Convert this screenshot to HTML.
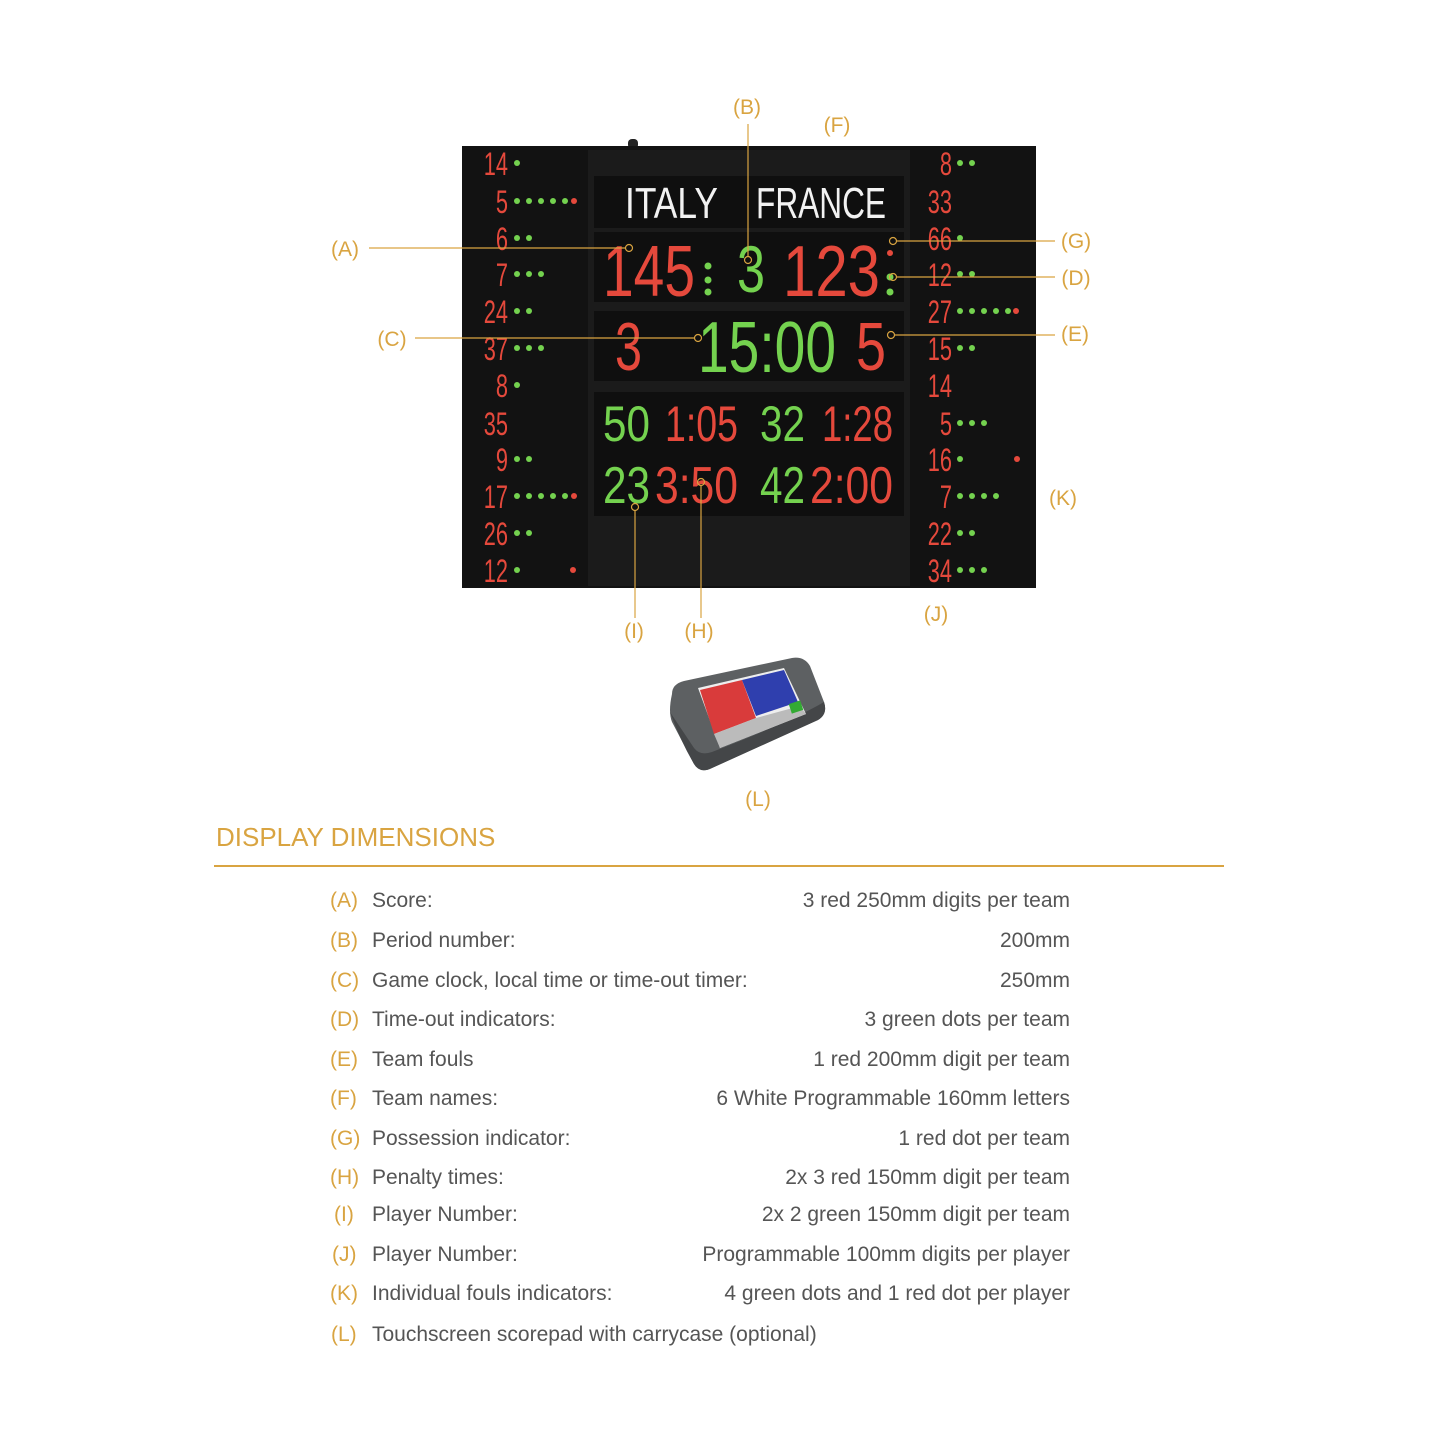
<!DOCTYPE html>
<html><head><meta charset="utf-8"><style>
html,body{margin:0;padding:0;background:#fff;width:1445px;height:1445px;overflow:hidden}
svg{display:block}
.o{fill:#d9a441;font-family:"Liberation Sans",sans-serif;font-size:21px}
.t{fill:#555;font-family:"Liberation Sans",sans-serif;font-size:21px}
.r{fill:#e5493c}.g{fill:#74d24f}
.d{font-family:"Liberation Sans Narrow","Liberation Sans",sans-serif}
</style></head><body>
<svg width="1445" height="1445" viewBox="0 0 1445 1445" xmlns="http://www.w3.org/2000/svg">
<!-- board -->
<rect x="628" y="139" width="10" height="10" rx="4" fill="#222"/>
<rect x="462" y="146" width="574" height="442" fill="#121212"/>
<rect x="588" y="150" width="322" height="436" fill="#1b1b1b"/>
<rect x="594" y="176" width="310" height="52" fill="#0f0f0f"/>
<rect x="594" y="232" width="310" height="70" fill="#0f0f0f"/>
<rect x="594" y="311" width="310" height="70" fill="#0f0f0f"/>
<rect x="594" y="392" width="310" height="124" fill="#0f0f0f"/>
<g class="d">
<text x="625" y="218" fill="#f2f2f2" font-size="44" textLength="93" lengthAdjust="spacingAndGlyphs">ITALY</text>
<text x="756" y="218" fill="#f2f2f2" font-size="44" textLength="130" lengthAdjust="spacingAndGlyphs">FRANCE</text>
<text class="r" x="603" y="296" font-size="72" textLength="92" lengthAdjust="spacingAndGlyphs">145</text>
<text class="g" x="737" y="292" font-size="66" textLength="28" lengthAdjust="spacingAndGlyphs">3</text>
<text class="r" x="783" y="296" font-size="72" textLength="97" lengthAdjust="spacingAndGlyphs">123</text>
<text class="r" x="615" y="370" font-size="68" textLength="27" lengthAdjust="spacingAndGlyphs">3</text>
<text class="g" x="698" y="372" font-size="72" textLength="138" lengthAdjust="spacingAndGlyphs">15:00</text>
<text class="r" x="856" y="370" font-size="68" textLength="30" lengthAdjust="spacingAndGlyphs">5</text>
<text class="g" x="603" y="441" font-size="50" textLength="47" lengthAdjust="spacingAndGlyphs">50</text>
<text class="r" x="665" y="441" font-size="50" textLength="73" lengthAdjust="spacingAndGlyphs">1:05</text>
<text class="g" x="760" y="441" font-size="50" textLength="45" lengthAdjust="spacingAndGlyphs">32</text>
<text class="r" x="822" y="441" font-size="50" textLength="71" lengthAdjust="spacingAndGlyphs">1:28</text>
<text class="g" x="603" y="503" font-size="52" textLength="47" lengthAdjust="spacingAndGlyphs">23</text>
<text class="r" x="655" y="503" font-size="52" textLength="83" lengthAdjust="spacingAndGlyphs">3:50</text>
<text class="g" x="760" y="503" font-size="52" textLength="45" lengthAdjust="spacingAndGlyphs">42</text>
<text class="r" x="810" y="503" font-size="52" textLength="83" lengthAdjust="spacingAndGlyphs">2:00</text>
</g>
<g class="g"><circle cx="708" cy="266" r="3.5"/><circle cx="708" cy="280" r="3.5"/><circle cx="708" cy="292" r="3.5"/><circle cx="890" cy="277" r="3.5"/><circle cx="890" cy="292" r="3.5"/></g>
<circle class="r" cx="890" cy="253" r="3"/>
<!-- side columns -->
<g class="d r" font-size="32" text-anchor="end" transform="translate(508,0) scale(0.68,1)">
<text x="0" y="175">14</text><text x="0" y="213">5</text><text x="0" y="250">6</text><text x="0" y="286">7</text>
<text x="0" y="323">24</text><text x="0" y="360">37</text><text x="0" y="397">8</text><text x="0" y="435">35</text>
<text x="0" y="471">9</text><text x="0" y="508">17</text><text x="0" y="545">26</text><text x="0" y="582">12</text>
</g>
<g class="d r" font-size="32" text-anchor="end" transform="translate(952,0) scale(0.68,1)">
<text x="0" y="175">8</text><text x="0" y="213">33</text><text x="0" y="250">66</text><text x="0" y="286">12</text>
<text x="0" y="323">27</text><text x="0" y="360">15</text><text x="0" y="397">14</text><text x="0" y="435">5</text>
<text x="0" y="471">16</text><text x="0" y="508">7</text><text x="0" y="545">22</text><text x="0" y="582">34</text>
</g>
<g class="g">
<circle cx="517" cy="163" r="3"/>
<circle cx="517" cy="201" r="3"/><circle cx="529" cy="201" r="3"/><circle cx="541" cy="201" r="3"/><circle cx="553" cy="201" r="3"/><circle cx="565" cy="201" r="3"/>
<circle cx="517" cy="238" r="3"/><circle cx="529" cy="238" r="3"/>
<circle cx="517" cy="274" r="3"/><circle cx="529" cy="274" r="3"/><circle cx="541" cy="274" r="3"/>
<circle cx="517" cy="311" r="3"/><circle cx="529" cy="311" r="3"/>
<circle cx="517" cy="348" r="3"/><circle cx="529" cy="348" r="3"/><circle cx="541" cy="348" r="3"/>
<circle cx="517" cy="385" r="3"/>
<circle cx="517" cy="459" r="3"/><circle cx="529" cy="459" r="3"/>
<circle cx="517" cy="496" r="3"/><circle cx="529" cy="496" r="3"/><circle cx="541" cy="496" r="3"/><circle cx="553" cy="496" r="3"/><circle cx="565" cy="496" r="3"/>
<circle cx="517" cy="533" r="3"/><circle cx="529" cy="533" r="3"/>
<circle cx="517" cy="570" r="3"/>
<circle cx="960" cy="163" r="3"/><circle cx="972" cy="163" r="3"/>
<circle cx="960" cy="238" r="3"/>
<circle cx="960" cy="274" r="3"/><circle cx="972" cy="274" r="3"/>
<circle cx="960" cy="311" r="3"/><circle cx="972" cy="311" r="3"/><circle cx="984" cy="311" r="3"/><circle cx="996" cy="311" r="3"/><circle cx="1008" cy="311" r="3"/>
<circle cx="960" cy="348" r="3"/><circle cx="972" cy="348" r="3"/>
<circle cx="960" cy="423" r="3"/><circle cx="972" cy="423" r="3"/><circle cx="984" cy="423" r="3"/>
<circle cx="960" cy="459" r="3"/>
<circle cx="960" cy="496" r="3"/><circle cx="972" cy="496" r="3"/><circle cx="984" cy="496" r="3"/><circle cx="996" cy="496" r="3"/>
<circle cx="960" cy="533" r="3"/><circle cx="972" cy="533" r="3"/>
<circle cx="960" cy="570" r="3"/><circle cx="972" cy="570" r="3"/><circle cx="984" cy="570" r="3"/>
</g>
<g class="r"><circle cx="574" cy="201" r="3"/><circle cx="574" cy="496" r="3"/><circle cx="573" cy="570" r="3"/><circle cx="1016" cy="311" r="3"/><circle cx="1017" cy="459" r="3"/></g>
<!-- callouts -->
<g stroke="#d9a441" stroke-width="1.2" fill="none">
<line x1="369" y1="248" x2="625" y2="248"/><circle cx="629" cy="248" r="3.5"/>
<line x1="748" y1="124" x2="748" y2="256"/><circle cx="748" cy="260" r="3.5"/>
<line x1="415" y1="338" x2="694" y2="338"/><circle cx="698" cy="338" r="3.5"/>
<line x1="897" y1="241" x2="1055" y2="241"/><circle cx="893" cy="241" r="3.5"/>
<line x1="897" y1="277" x2="1055" y2="277"/><circle cx="893" cy="277" r="3.5"/>
<line x1="895" y1="335" x2="1055" y2="335"/><circle cx="891" cy="335" r="3.5"/>
<line x1="635" y1="511" x2="635" y2="618"/><circle cx="635" cy="507" r="3.5"/>
<line x1="701" y1="486" x2="701" y2="618"/><circle cx="701" cy="482" r="3.5"/>
<line x1="214" y1="866" x2="1224" y2="866" stroke-width="2"/>
</g>
<g class="o" text-anchor="middle">
<text x="747" y="114">(B)</text><text x="837" y="132">(F)</text>
<text x="345" y="256">(A)</text><text x="392" y="346">(C)</text>
<text x="1076" y="248">(G)</text><text x="1076" y="285">(D)</text><text x="1075" y="341">(E)</text>
<text x="1063" y="505">(K)</text><text x="936" y="621">(J)</text>
<text x="634" y="638">(I)</text><text x="699" y="638">(H)</text><text x="758" y="806">(L)</text>
</g>
<!-- scorepad -->
<path d="M672 694 Q672 684 684 681 L792 658 Q804 656 810 666 L824 702 Q828 714 818 720 L712 768 Q700 774 694 764 L672 722 Q668 712 672 694Z" fill="#5d6062"/>
<path d="M670 712 Q680 740 694 764 Q700 774 712 768 L818 720 Q828 714 824 702 Q790 722 712 752 Q700 756 694 748 Z" fill="#444648"/>
<polygon points="698,688 784,668 806,714 720,748" fill="#eee"/>
<polygon points="700,690 742,680 756,718 714,734" fill="#d93b3b"/>
<polygon points="742,680 784,670 798,702 756,716" fill="#2f3fae"/>
<polygon points="714,734 756,718 800,706 806,714 720,748" fill="#bbb"/>
<rect x="790" y="702" width="12" height="10" fill="#3a3" transform="rotate(-18 796 707)"/>
<!-- text table -->
<text x="216" y="846" fill="#d9a441" font-family="Liberation Sans,sans-serif" font-size="26">DISPLAY DIMENSIONS</text>
<g class="o"><text x="330" y="907">(A)</text><text x="330" y="947">(B)</text><text x="330" y="987">(C)</text><text x="330" y="1026">(D)</text><text x="330" y="1066">(E)</text><text x="330" y="1105">(F)</text><text x="330" y="1145">(G)</text><text x="330" y="1184">(H)</text><text x="334" y="1221">(I)</text><text x="332" y="1261">(J)</text><text x="330" y="1300">(K)</text><text x="331" y="1341">(L)</text></g>
<g class="t"><text x="372" y="907">Score:</text><text x="372" y="947">Period number:</text><text x="372" y="987">Game clock, local time or time-out timer:</text><text x="372" y="1026">Time-out indicators:</text><text x="372" y="1066">Team fouls</text><text x="372" y="1105">Team names:</text><text x="372" y="1145">Possession indicator:</text><text x="372" y="1184">Penalty times:</text><text x="372" y="1221">Player Number:</text><text x="372" y="1261">Player Number:</text><text x="372" y="1300">Individual fouls indicators:</text><text x="372" y="1341">Touchscreen scorepad with carrycase (optional)</text></g>
<g class="t" text-anchor="end"><text x="1070" y="907">3 red 250mm digits per team</text><text x="1070" y="947">200mm</text><text x="1070" y="987">250mm</text><text x="1070" y="1026">3 green dots per team</text><text x="1070" y="1066">1 red 200mm digit per team</text><text x="1070" y="1105">6 White Programmable 160mm letters</text><text x="1070" y="1145">1 red dot per team</text><text x="1070" y="1184">2x 3 red 150mm digit per team</text><text x="1070" y="1221">2x 2 green 150mm digit per team</text><text x="1070" y="1261">Programmable 100mm digits per player</text><text x="1070" y="1300">4 green dots and 1 red dot per player</text></g>
</svg>
</body></html>
